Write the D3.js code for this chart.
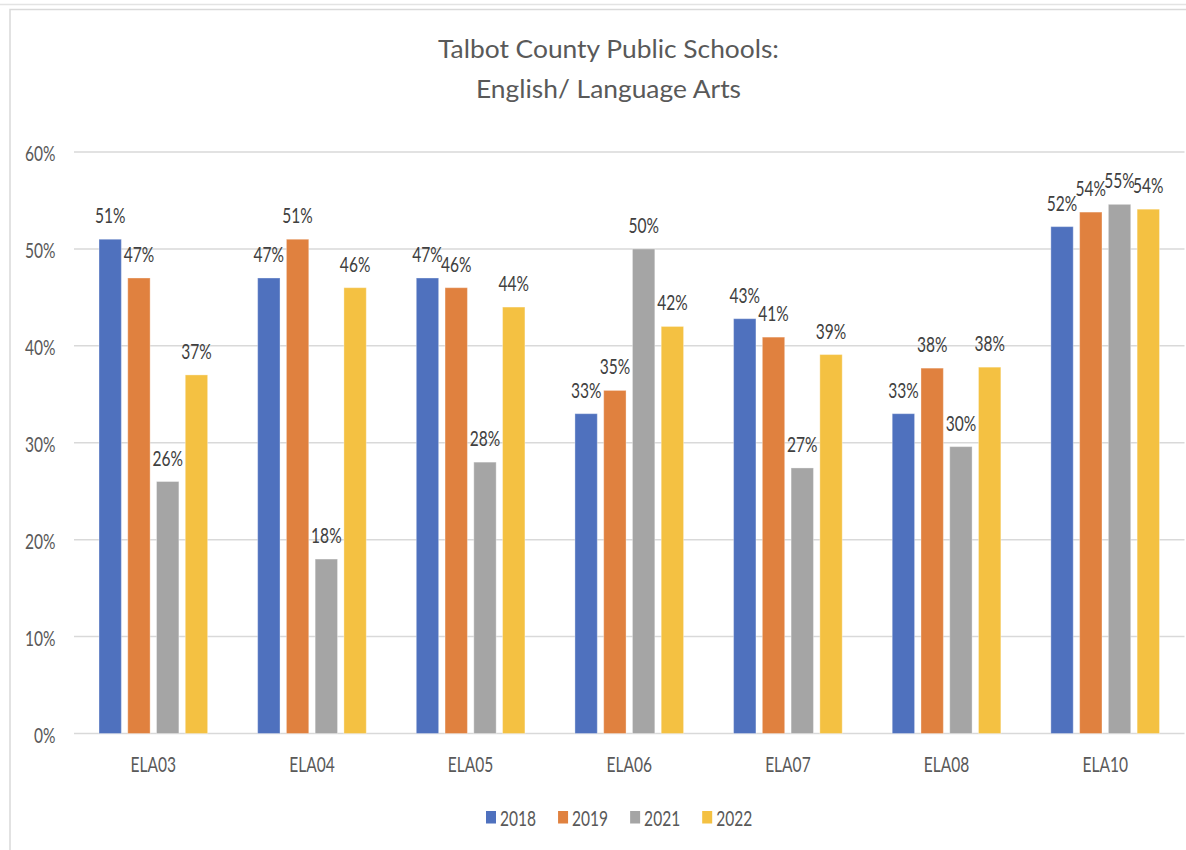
<!DOCTYPE html>
<html>
<head>
<meta charset="utf-8">
<script src="https://cdn.jsdelivr.net/npm/d3@7"></script>
<style>
  body { margin: 0; background: #fff; }
  svg text { font-family: Lato, "Open Sans", sans-serif; }
</style>
</head>
<body>
<div id="chart"></div>
<script>
// data
const categories = ["ELA03", "ELA04", "ELA05", "ELA06", "ELA07", "ELA08", "ELA10"];
const years = ["2018", "2019", "2021", "2022"];
const values2018 = [51, 47, 47, 33, 42.8, 33, 52.3];
const values2019 = [47, 51, 46, 35.4, 40.9, 37.7, 53.8];
const values2021 = [26, 18, 28, 50, 27.4, 29.6, 54.6];
const values2022 = [37, 46, 44, 42, 39.1, 37.8, 54.1];
const yTicks = [0, 10, 20, 30, 40, 50, 60];
const colors = ["#4f71be", "#e0813f", "#a5a5a5", "#f4c142"];

const series = [values2018, values2019, values2021, values2022];

// set dimensions
const width = 1186,
    height = 850,
    margin = { top: 152, right: 1.5, bottom: 116.5, left: 74 };

const svg = d3.select("#chart")
    .append("svg")
    .attr("width", width)
    .attr("height", height);

// the reference text is narrow (Calibri, squeezed); measure and squeeze ours to match
const fs = 21;
const probe = svg.append("text").style("font-size", fs + "px").text("51%");
const sx = 30.5 / probe.node().getComputedTextLength();
probe.text("Talbot County Public Schools:").style("font-size", "25px");
const titleSx = 341 / probe.node().getComputedTextLength();
probe.remove();

// frame
svg.append("line")
    .attr("x1", 0).attr("x2", width)
    .attr("y1", 4.5).attr("y2", 4.5)
    .attr("stroke", "#e3e3e3")
    .attr("stroke-width", 1.5);

svg.append("rect")
    .attr("x", 10).attr("y", 9.5)
    .attr("width", width + 20).attr("height", height + 20)
    .attr("fill", "none")
    .attr("stroke", "#d9d9d9")
    .attr("stroke-width", 1.5);

// title
const title = svg.append("text")
    .attr("transform", `translate(608.5,58) scale(${titleSx},1)`)
    .attr("text-anchor", "middle")
    .attr("fill", "#595959")
    .style("font-size", "25px");
title.append("tspan").attr("x", 0).text("Talbot County Public Schools:");
title.append("tspan").attr("x", 0).attr("dy", 40).text("English/ Language Arts");

// scales
const x0 = d3.scaleBand()
    .domain(categories)
    .range([margin.left, width - margin.right]);

const x1 = d3.scaleBand()
    .domain(years)
    .range([25, x0.bandwidth() - 25])
    .paddingInner(0.222);

const y = d3.scaleLinear()
    .domain([0, 60])
    .range([height - margin.bottom, margin.top]);

// gridlines
svg.append("g")
    .selectAll("line")
    .data(yTicks)
    .enter()
    .append("line")
    .attr("x1", margin.left)
    .attr("x2", width - margin.right)
    .attr("y1", d => y(d))
    .attr("y2", d => y(d))
    .attr("stroke", "#d9d9d9")
    .attr("stroke-width", 1.5);

// y axis
const yAxis = d3.axisLeft(y)
    .tickValues(yTicks)
    .tickFormat(d => d + "%")
    .tickSize(0);

const yG = svg.append("g")
    .attr("transform", "translate(" + margin.left + ",0)")
    .call(yAxis);
yG.select(".domain").remove();
yG.selectAll("text")
    .attr("x", 0)
    .attr("dy", "0.36em")
    .attr("transform", `translate(-18.5,1) scale(${sx},1)`)
    .attr("fill", "#595959")
    .style("font-size", fs + "px");

// x axis
const xAxis = d3.axisBottom(x0).tickSize(0).tickPadding(24);
const xG = svg.append("g")
    .attr("transform", "translate(0," + (height - margin.bottom) + ")")
    .call(xAxis);
xG.select(".domain").remove();
xG.selectAll("text")
    .attr("transform", `scale(${sx},1)`)
    .attr("fill", "#595959")
    .style("font-size", fs + "px");

// bars
const rows = [];
categories.forEach((c, i) => {
    years.forEach((yr, j) => {
        rows.push({ cat: c, year: yr, value: series[j][i], color: colors[j] });
    });
});

svg.append("g")
    .selectAll("rect")
    .data(rows)
    .enter()
    .append("rect")
    .attr("x", d => x0(d.cat) + x1(d.year))
    .attr("y", d => y(d.value))
    .attr("width", x1.bandwidth())
    .attr("height", d => y(0) - y(d.value))
    .attr("fill", d => d.color)
    .attr("stroke", "#ffffff")
    .attr("stroke-opacity", 0.35)
    .attr("stroke-width", 1);

// data labels
svg.append("g")
    .selectAll("text")
    .data(rows)
    .enter()
    .append("text")
    .attr("transform", d => `translate(${x0(d.cat) + x1(d.year) + x1.bandwidth() / 2},${y(d.value) - 16}) scale(${sx},1)`)
    .attr("text-anchor", "middle")
    .attr("fill", "#404040")
    .style("font-size", fs + "px")
    .text(d => Math.round(d.value) + "%");

// legend
const legend = svg.append("g").attr("id", "legend");
let lx = 486;
years.forEach((yr, j) => {
    legend.append("rect")
        .attr("x", lx)
        .attr("y", 811)
        .attr("width", 10)
        .attr("height", 12.5)
        .attr("fill", colors[j]);
    const t = legend.append("text")
        .attr("transform", `translate(${lx + 14},825.5) scale(${sx},1)`)
        .attr("fill", "#595959")
        .style("font-size", fs + "px")
        .text(yr);
    lx += 14 + t.node().getComputedTextLength() * sx + 22;
});
</script>
</body>
</html>
